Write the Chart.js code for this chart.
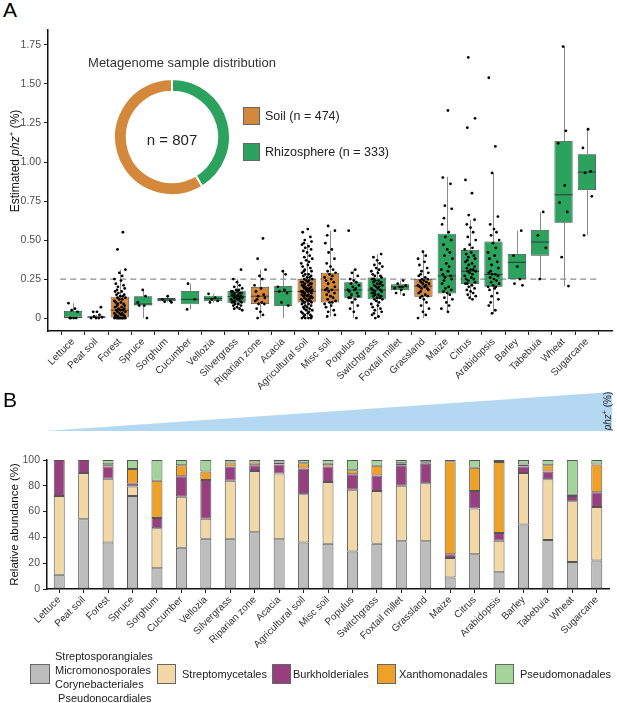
<!DOCTYPE html>
<html>
<head>
<meta charset="utf-8">
<script src="https://cdn.jsdelivr.net/npm/chart.js@4.4.1/dist/chart.umd.min.js"></script>
<style>
  body { margin: 0; background: #fff; font-family: "Liberation Sans", Arial, sans-serif; }
  #wrap { position: relative; width: 617px; height: 703px; overflow: hidden; }
  .abs { position: absolute; }
  .panel { font-size: 21px; color: #000; }
  .sw { position: absolute; width: 18px; height: 19px; border: 1px solid #666; box-sizing: border-box; }
  .lt { position: absolute; font-size: 11px; color: #222; white-space: nowrap; line-height: 14px; }
</style>
</head>
<body>
<div id="wrap">
  <div class="abs panel" style="left:3px;top:-2px">A</div>
  <canvas id="chartA" class="abs" style="left:0;top:0" width="617" height="395"></canvas>

  <!-- y title panel A -->
  <div class="abs" style="left:14px;top:161px;transform:translate(-50%,-50%) rotate(-90deg);font-size:12px;white-space:nowrap;color:#111">Estimated <i>phz</i><sup style="font-size:8px">+</sup> (%)</div>

  <!-- donut inset -->
  <div class="abs" style="left:182px;top:62px;transform:translate(-50%,-50%);font-size:13px;color:#333;white-space:nowrap">Metagenome sample distribution</div>
  <canvas id="donut" class="abs" style="left:112px;top:77px" width="120" height="120"></canvas>
  <div class="abs" style="left:172px;top:139px;transform:translate(-50%,-50%);font-size:15px;color:#222;white-space:nowrap">n = 807</div>
  <div class="sw" style="left:243px;top:107px;width:17px;height:18px;background:#D4883C"></div>
  <div class="abs" style="left:265px;top:109px;font-size:12.5px;color:#222;white-space:nowrap">Soil (n = 474)</div>
  <div class="sw" style="left:243px;top:143px;width:17px;height:18px;background:#2CA25F"></div>
  <div class="abs" style="left:265px;top:145px;font-size:12.5px;color:#222;white-space:nowrap">Rhizosphere (n = 333)</div>

  <!-- panel B -->
  <div class="abs panel" style="left:3px;top:388px">B</div>
  <div class="abs" style="left:45px;top:392px;width:567px;height:39px;background:#B5D8F2;clip-path:polygon(0 100%,100% 0,100% 100%)"></div>
  <div class="abs" style="left:607px;top:411px;transform:translate(-50%,-50%) rotate(-90deg);font-size:10px;white-space:nowrap;color:#222"><i>phz</i><sup style="font-size:7px">+</sup> (%)</div>
  <canvas id="chartB" class="abs" style="left:0;top:440px" width="617" height="215"></canvas>

  <!-- legend panel B -->
  <div class="sw" style="left:30px;top:664px;width:20px;height:20px;background:#BDBDBD"></div>
  <div class="lt" style="left:55px;top:649px">Streptosporangiales<br>Micromonosporales<br>Corynebacteriales<br>&nbsp;Pseudonocardiales</div>
  <div class="sw" style="left:157px;top:664px;width:19px;height:20px;background:#F2D8A7"></div>
  <div class="lt" style="left:182px;top:667px">Streptomycetales</div>
  <div class="sw" style="left:272px;top:664px;width:19px;height:20px;background:#973F7F"></div>
  <div class="lt" style="left:293px;top:667px">Burkholderiales</div>
  <div class="sw" style="left:377px;top:664px;width:19px;height:20px;background:#EEA126"></div>
  <div class="lt" style="left:399px;top:667px">Xanthomonadales</div>
  <div class="sw" style="left:495px;top:664px;width:19px;height:20px;background:#A3D59B"></div>
  <div class="lt" style="left:520px;top:667px">Pseudomonadales</div>
</div>

<script>
// categories (same order in both panels)
const cats = ['Lettuce', 'Peat soil', 'Forest', 'Spruce', 'Sorghum', 'Cucumber', 'Vellozia',
  'Silvergrass', 'Riparian zone', 'Acacia', 'Agricultural soil', 'Misc soil', 'Populus',
  'Switchgrass', 'Foxtail millet', 'Grassland', 'Maize', 'Citrus', 'Arabidopsis', 'Barley',
  'Tabebuia', 'Wheat', 'Sugarcane'];

// R = rhizosphere, S = soil (box fill)
const groupType = ['R', 'R', 'S', 'R', 'R', 'R', 'R', 'R', 'S', 'R', 'S', 'S', 'R', 'R', 'R', 'S',
  'R', 'R', 'R', 'R', 'R', 'R', 'R'];

// box plot stats, estimated phz+ (%)
const boxLow  = [0, 0, 0, 0, 0.10, 0.055, 0.10, 0.058, 0, 0, 0, 0.01, 0, 0, 0.15, 0, 0.04, 0.12, 0.03, 0.25, 0.25, 0.205, 0.53];
const boxQ1   = [0, 0, 0, 0.08, 0.107, 0.088, 0.109, 0.098, 0.09, 0.077, 0.10, 0.10, 0.13, 0.12, 0.18, 0.137, 0.158, 0.218, 0.20, 0.25, 0.40, 0.61, 0.82];
const boxMed  = [0.003, 0.005, 0.05, 0.09, 0.115, 0.12, 0.125, 0.137, 0.14, 0.17, 0.17, 0.18, 0.18, 0.18, 0.20, 0.205, 0.27, 0.30, 0.28, 0.357, 0.487, 0.79, 0.935];
const boxQ3   = [0.045, 0.011, 0.137, 0.14, 0.128, 0.173, 0.143, 0.175, 0.20, 0.205, 0.25, 0.29, 0.23, 0.26, 0.216, 0.25, 0.54, 0.436, 0.49, 0.41, 0.564, 1.135, 1.05];
const boxHigh = [0.095, 0.02, 0.31, 0.18, 0.14, 0.22, 0.155, 0.25, 0.31, 0.30, 0.48, 0.56, 0.31, 0.41, 0.24, 0.425, 0.905, 0.63, 0.93, 0.56, 0.68, 1.74, 1.21];

// individual metagenome values per category
const samples = [
  [0.095, 0.06, 0.05, 0.04, 0.0, 0.0, 0.0, 0.0],
  [0.07, 0.04, 0.04, 0.02, 0.01, 0.005, 0.0, 0.0, 0.0],
  [0.55, 0.44, 0.31, 0.29, 0.27, 0.25, 0.24, 0.22, 0.21, 0.2, 0.19, 0.18, 0.17, 0.17, 0.16, 0.15, 0.15, 0.14, 0.14, 0.13,
   0.13, 0.12, 0.12, 0.11, 0.1, 0.1, 0.09, 0.09, 0.08, 0.08, 0.07, 0.07, 0.06, 0.06, 0.05, 0.05, 0.05, 0.04, 0.04, 0.03,
   0.03, 0.03, 0.02, 0.02, 0.02, 0.01, 0.01, 0.01, 0.01, 0.0, 0.0, 0.0, 0.0, 0.0, 0.0, 0.0, 0.0, 0.0, 0.0, 0.0],
  [0.18, 0.14, 0.1, 0.08, 0.08, 0.0],
  [0.14, 0.12, 0.11, 0.105, 0.1],
  [0.22, 0.12, 0.055],
  [0.155, 0.13, 0.12, 0.11, 0.1],
  [0.31, 0.25, 0.23, 0.21, 0.2, 0.19, 0.18, 0.18, 0.17, 0.17, 0.17, 0.16, 0.16, 0.16, 0.15, 0.15, 0.15, 0.14, 0.14, 0.14,
   0.14, 0.13, 0.13, 0.13, 0.13, 0.12, 0.12, 0.12, 0.11, 0.11, 0.11, 0.1, 0.1, 0.1, 0.09, 0.09, 0.08, 0.08, 0.07, 0.06, 0.06, 0.05],
  [0.51, 0.38, 0.31, 0.27, 0.25, 0.21, 0.19, 0.17, 0.15, 0.14, 0.13, 0.12, 0.11, 0.1, 0.09, 0.09, 0.06, 0.04, 0.02, 0.0],
  [0.3, 0.28, 0.2, 0.18, 0.17, 0.16, 0.1, 0.08],
  [0.57, 0.55, 0.52, 0.5, 0.49, 0.48, 0.47, 0.46, 0.45, 0.44, 0.43, 0.42, 0.4, 0.39, 0.38, 0.37, 0.36, 0.35, 0.34, 0.33,
   0.32, 0.31, 0.3, 0.3, 0.29, 0.28, 0.28, 0.27, 0.27, 0.26, 0.26, 0.25, 0.25, 0.24, 0.24, 0.23, 0.23, 0.23, 0.22, 0.22,
   0.22, 0.21, 0.21, 0.21, 0.2, 0.2, 0.2, 0.19, 0.19, 0.19, 0.18, 0.18, 0.18, 0.17, 0.17, 0.17, 0.17, 0.16, 0.16, 0.16,
   0.15, 0.15, 0.15, 0.14, 0.14, 0.14, 0.13, 0.13, 0.13, 0.12, 0.12, 0.12, 0.11, 0.11, 0.11, 0.1, 0.1, 0.1, 0.09, 0.09,
   0.08, 0.08, 0.07, 0.07, 0.06, 0.06, 0.05, 0.05, 0.04, 0.04, 0.03, 0.03, 0.02, 0.02, 0.01, 0.01, 0.0, 0.0, 0.0, 0.0],
  [0.59, 0.56, 0.53, 0.48, 0.44, 0.42, 0.38, 0.35, 0.33, 0.31, 0.3, 0.29, 0.28, 0.27, 0.26, 0.25, 0.24, 0.23, 0.22, 0.2,
   0.19, 0.18, 0.18, 0.17, 0.16, 0.15, 0.14, 0.13, 0.12, 0.11, 0.1, 0.1, 0.09, 0.08, 0.07, 0.05, 0.04, 0.02, 0.01],
  [0.56, 0.31, 0.29, 0.27, 0.25, 0.24, 0.23, 0.22, 0.21, 0.2, 0.19, 0.18, 0.18, 0.17, 0.16, 0.15, 0.14, 0.13, 0.13, 0.12,
   0.1, 0.08, 0.06, 0.04, 0.0],
  [0.41, 0.39, 0.37, 0.35, 0.34, 0.33, 0.32, 0.31, 0.3, 0.29, 0.28, 0.27, 0.27, 0.26, 0.25, 0.25, 0.24, 0.24, 0.23, 0.23,
   0.22, 0.22, 0.21, 0.21, 0.2, 0.2, 0.19, 0.19, 0.18, 0.18, 0.17, 0.17, 0.16, 0.16, 0.15, 0.15, 0.14, 0.14, 0.13, 0.13,
   0.12, 0.12, 0.11, 0.1, 0.09, 0.08, 0.07, 0.06, 0.05, 0.04, 0.03, 0.02, 0.01, 0.0],
  [0.24, 0.22, 0.21, 0.2, 0.2, 0.19, 0.18, 0.16, 0.15],
  [0.425, 0.4, 0.38, 0.36, 0.34, 0.32, 0.3, 0.29, 0.28, 0.27, 0.26, 0.25, 0.25, 0.24, 0.24, 0.23, 0.23, 0.22, 0.22, 0.21,
   0.21, 0.2, 0.2, 0.19, 0.19, 0.18, 0.17, 0.16, 0.15, 0.14, 0.14, 0.13, 0.12, 0.1, 0.08, 0.06, 0.04, 0.02, 0.0],
  [1.33, 0.9, 0.86, 0.72, 0.7, 0.64, 0.6, 0.55, 0.52, 0.5, 0.47, 0.44, 0.42, 0.4, 0.38, 0.35, 0.33, 0.31, 0.3, 0.28,
   0.27, 0.26, 0.25, 0.24, 0.22, 0.2, 0.19, 0.18, 0.17, 0.16, 0.15, 0.13, 0.12, 0.1, 0.08, 0.06, 0.04],
  [1.67, 1.28, 1.22, 0.885, 0.8, 0.66, 0.63, 0.6, 0.58, 0.55, 0.52, 0.5, 0.47, 0.45, 0.44, 0.42, 0.41, 0.4, 0.39, 0.38,
   0.37, 0.36, 0.35, 0.34, 0.33, 0.32, 0.31, 0.31, 0.3, 0.3, 0.29, 0.28, 0.27, 0.26, 0.25, 0.25, 0.24, 0.23, 0.22, 0.22,
   0.21, 0.2, 0.19, 0.18, 0.17, 0.16, 0.15, 0.14, 0.13, 0.12],
  [1.54, 1.1, 0.93, 0.65, 0.6, 0.57, 0.55, 0.53, 0.5, 0.48, 0.45, 0.42, 0.4, 0.38, 0.36, 0.34, 0.32, 0.3, 0.29, 0.28,
   0.28, 0.27, 0.26, 0.25, 0.24, 0.23, 0.22, 0.21, 0.2, 0.2, 0.19, 0.18, 0.16, 0.14, 0.12, 0.1, 0.08, 0.05, 0.03],
  [0.56, 0.4, 0.33, 0.25, 0.22, 0.21],
  [0.68, 0.53, 0.45, 0.25],
  [1.74, 1.2, 1.12, 0.85, 0.74, 0.68, 0.39, 0.205],
  [1.21, 1.09, 0.94, 0.93, 0.78, 0.53]
];

const threshold = 0.25;
const yTicksA = [0, 0.25, 0.5, 0.75, 1.0, 1.25, 1.5, 1.75];

// panel B: relative abundance (%) of orders
const streptoEtc  = [11, 54, 36, 72, 16, 32, 39, 39, 44, 38.5, 36, 35, 29, 35, 37, 37, 9, 27, 13, 50, 38, 21, 22];
const streptomyc  = [61, 36, 49.5, 7.5, 31, 39.5, 15.5, 45, 47.5, 51, 37.5, 48, 48, 41, 43, 45, 15, 35.5, 24.5, 40, 47, 47, 41.5];
const burkholder  = [28, 10, 9.5, 2, 8, 16, 30, 11, 4.5, 7, 20, 12, 12, 12, 16, 15, 3, 13.5, 6, 5, 6, 4, 11.5];
const xanthomon   = [0, 0, 1.8, 11.5, 29, 8.5, 6.5, 3, 2, 1.5, 4, 2, 3, 7.5, 1.5, 1.3, 72, 18, 55, 1.5, 5, 1, 21.5];
const pseudomon   = [0, 0, 3.2, 7, 16, 4, 9, 2, 2, 2, 2.5, 3, 8, 4.5, 2.5, 1.7, 1, 6, 1.5, 3.5, 4, 27, 3.5];

const GREEN = '#2CA25F', ORANGE = '#D4883C';
Chart.defaults.font.family = '"Liberation Sans", Arial, sans-serif';
Chart.defaults.animation = false;

// fixed jitter pattern (horizontal spread only)
const jit = [-0.2, 0.08, -0.06, 0.19, -0.14, 0.02, 0.13, -0.1, 0.24, -0.02, 0.1, -0.23, 0.05, -0.17, 0.16, -0.08, 0.21, -0.12];

const pts = [];
samples.forEach((arr, i) => {
  arr.forEach((v, k) => pts.push({ x: i + jit[(k + i * 3) % jit.length], y: v }));
});

const boxPlugin = {
  id: 'boxes',
  beforeDatasetsDraw(chart) {
    const { ctx, scales: { x, y } } = chart;
    ctx.save();
    ctx.strokeStyle = '#8a8a8a';
    ctx.lineWidth = 1;
    cats.forEach((c, i) => {
      const px = Math.round(x.getPixelForValue(i)) + 0.5;
      ctx.beginPath();
      ctx.moveTo(px, y.getPixelForValue(boxLow[i]));
      ctx.lineTo(px, y.getPixelForValue(boxQ1[i]));
      ctx.moveTo(px, y.getPixelForValue(boxQ3[i]));
      ctx.lineTo(px, y.getPixelForValue(boxHigh[i]));
      ctx.stroke();
    });
    ctx.restore();
  },
  afterDatasetDraw(chart, args) {
    if (args.index !== 1) return;
    const { ctx, scales: { y } } = chart;
    ctx.save();
    ctx.strokeStyle = 'rgba(30,30,30,0.75)';
    ctx.lineWidth = 1;
    args.meta.data.forEach((bar, i) => {
      const py = y.getPixelForValue(boxMed[i]);
      ctx.beginPath();
      ctx.moveTo(bar.x - bar.width / 2, py);
      ctx.lineTo(bar.x + bar.width / 2, py);
      ctx.stroke();
    });
    ctx.restore();
  }
};

new Chart(document.getElementById('chartA'), {
  type: 'bar',
  data: {
    datasets: [
      {
        type: 'scatter', order: 0,
        data: pts,
        pointRadius: 1.4, pointBackgroundColor: '#000', pointBorderWidth: 0
      },
      {
        type: 'bar', order: 1,
        data: cats.map((c, i) => ({ x: i, y: [boxQ1[i], boxQ3[i]] })),
        backgroundColor: groupType.map(t => t === 'S' ? ORANGE : GREEN),
        borderColor: '#3f3f3f', borderWidth: 0.8, borderSkipped: false,
        barPercentage: 0.78, categoryPercentage: 1
      },
      {
        type: 'line', order: 2,
        data: [{ x: -0.55, y: threshold }, { x: 22.55, y: threshold }],
        borderColor: '#8c8c8c', borderWidth: 1.3, borderDash: [6, 4],
        pointRadius: 0
      }
    ]
  },
  options: {
    responsive: false,
    layout: { padding: { top: 30, right: 5, left: 0, bottom: 0 } },
    plugins: { legend: { display: false }, tooltip: { enabled: false } },
    scales: {
      x: {
        type: 'linear', min: -0.55, max: 22.55,
        afterBuildTicks: s => { s.ticks = cats.map((c, i) => ({ value: i })); },
        afterFit: s => { s.height = 64; },
        grid: { display: true, drawOnChartArea: false, drawTicks: true, tickLength: 4, color: '#222' },
        border: { display: true, color: '#111', width: 1.5 },
        ticks: {
          autoSkip: false, minRotation: 45, maxRotation: 45, padding: 1,
          color: '#333', font: { size: 10 },
          callback: v => cats[v]
        }
      },
      y: {
        min: -0.083, max: 1.846,
        afterBuildTicks: s => { s.ticks = yTicksA.map(v => ({ value: v })); },
        afterFit: s => { s.width = 48; },
        grid: { display: true, drawOnChartArea: false, drawTicks: true, tickLength: 4, color: '#222' },
        border: { display: true, color: '#111', width: 1.5 },
        ticks: {
          color: '#4d4d4d', font: { size: 10.5 }, padding: 3,
          callback: v => v === 0 ? '0' : v.toFixed(2)
        }
      }
    }
  },
  plugins: [boxPlugin]
});

// donut inset
new Chart(document.getElementById('donut'), {
  type: 'doughnut',
  data: {
    labels: ['Rhizosphere', 'Soil'],
    datasets: [{
      data: [333, 474],
      backgroundColor: [GREEN, ORANGE],
      borderColor: '#fff', borderWidth: 2
    }]
  },
  options: {
    responsive: false,
    radius: 58, cutout: 46,
    plugins: { legend: { display: false }, tooltip: { enabled: false } }
  }
});

// panel B stacked bars
const orderColors = ['#BDBDBD', '#F2D8A7', '#973F7F', '#EEA126', '#A3D59B'];
const orderNames = ['Streptosporangiales/Micromonosporales/Corynebacteriales/Pseudonocardiales',
  'Streptomycetales', 'Burkholderiales', 'Xanthomonadales', 'Pseudomonadales'];
const orderData = [streptoEtc, streptomyc, burkholder, xanthomon, pseudomon];

new Chart(document.getElementById('chartB'), {
  type: 'bar',
  data: {
    labels: cats,
    datasets: orderData.map((d, k) => ({
      label: orderNames[k],
      data: d,
      backgroundColor: orderColors[k],
      borderColor: '#555',
      borderWidth: 1, borderSkipped: false,
      barPercentage: 0.45, categoryPercentage: 1
    }))
  },
  options: {
    responsive: false,
    layout: { padding: { top: 20, right: 8, left: 0, bottom: 0 } },
    plugins: { legend: { display: false }, tooltip: { enabled: false } },
    scales: {
      x: {
        stacked: true,
        afterFit: s => { s.height = 66; },
        grid: { display: true, drawOnChartArea: false, drawTicks: true, tickLength: 4, color: '#222', offset: false },
        border: { display: true, color: '#111', width: 1.5 },
        ticks: { autoSkip: false, minRotation: 45, maxRotation: 45, padding: 1, color: '#333', font: { size: 10 } }
      },
      y: {
        stacked: true, min: 0, max: 100,
        afterFit: s => { s.width = 47; },
        grid: { display: true, drawOnChartArea: false, drawTicks: true, tickLength: 4, color: '#222' },
        border: { display: true, color: '#111', width: 1.5 },
        ticks: { stepSize: 20, color: '#4d4d4d', font: { size: 10.5 }, padding: 3 },
        title: { display: true, text: 'Relative abundance (%)', color: '#111', font: { size: 11.5 }, padding: { top: 8, bottom: 0 } }
      }
    }
  }
});
</script>
</body>
</html>
